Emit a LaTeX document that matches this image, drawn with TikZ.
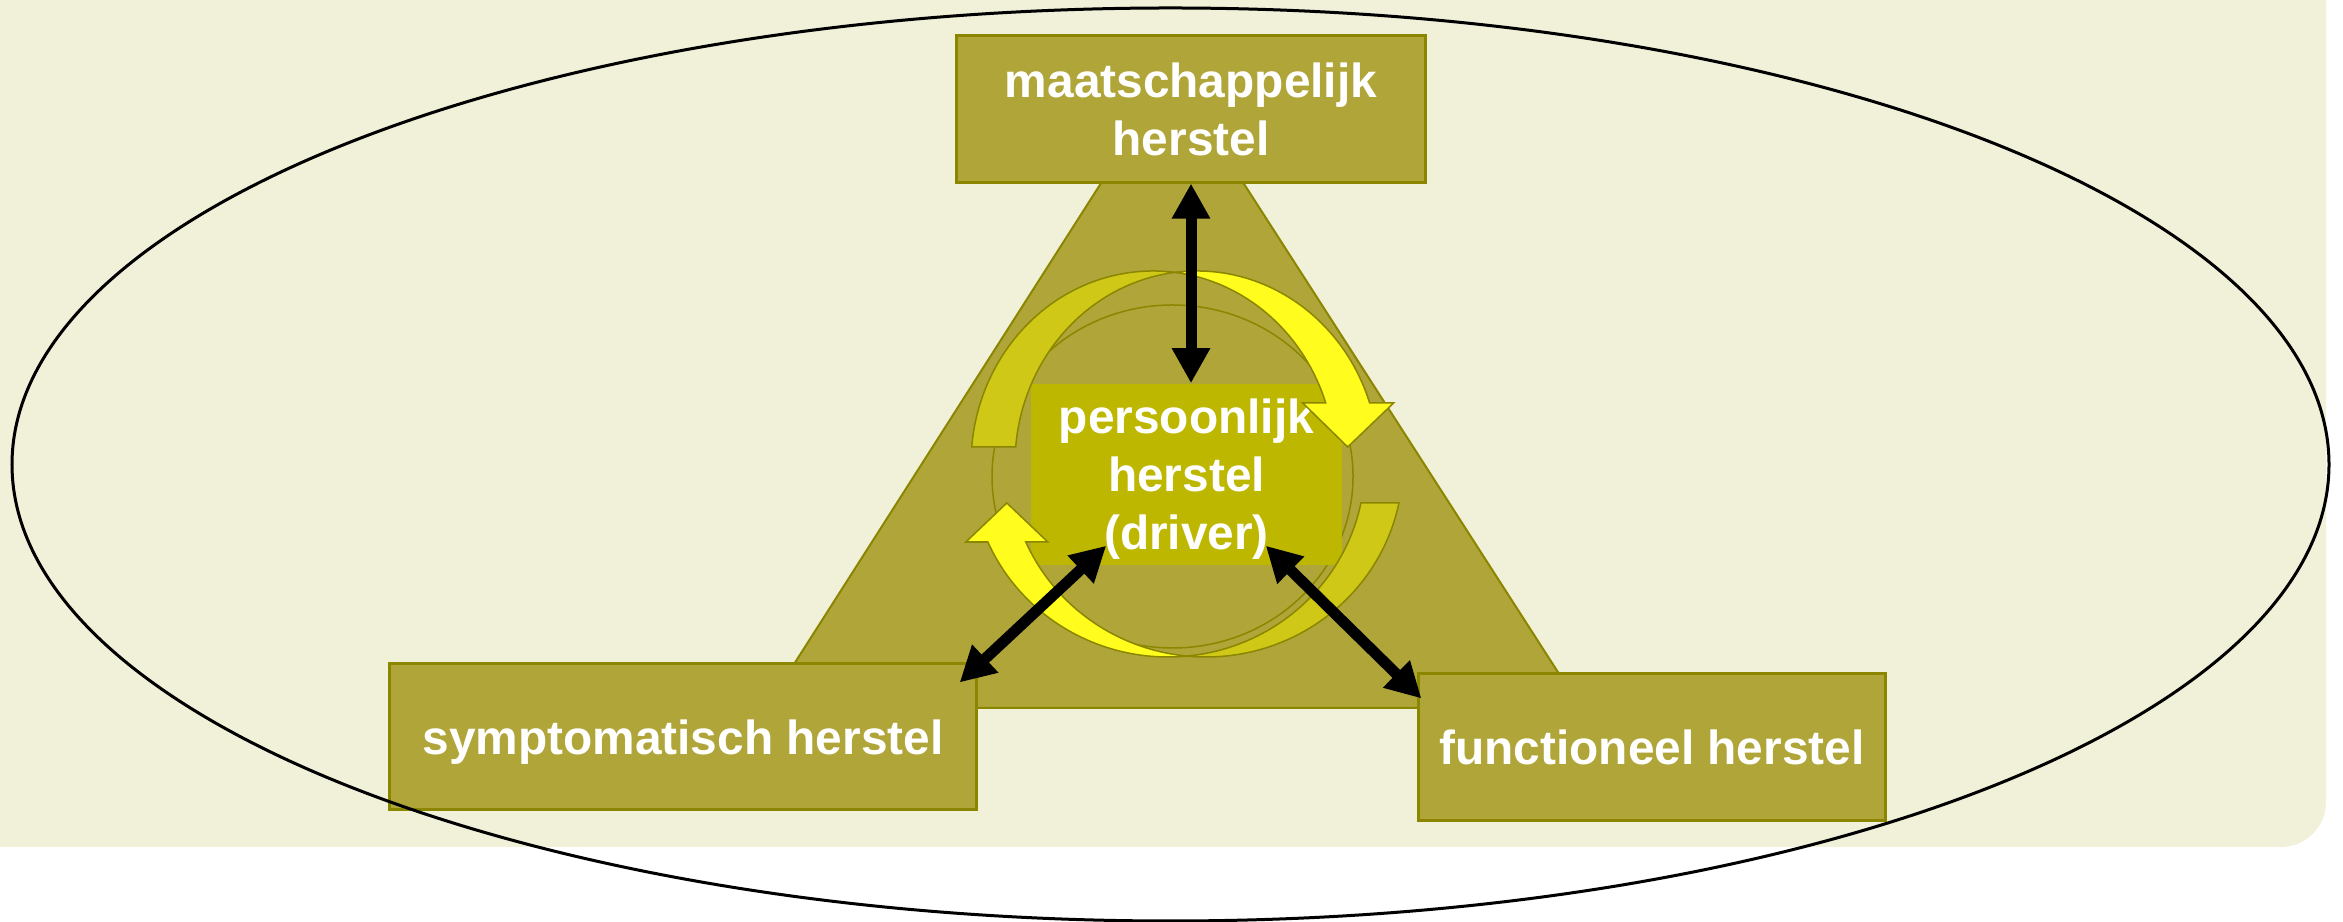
\documentclass[tikz,border=0pt]{standalone}
\usepackage{fontspec}
\setmainfont{Liberation Sans}
\usetikzlibrary{arrows.meta}
\definecolor{bgbeige}{HTML}{F1F0D8}
\definecolor{olivefill}{HTML}{B0A538}
\definecolor{oliveline}{HTML}{8B8600}
\definecolor{drivefill}{HTML}{BEB700}
\definecolor{darkyel}{HTML}{CFC817}
\definecolor{brightyel}{HTML}{FFFC1E}
\begin{document}
\begin{tikzpicture}[x=0.01cm,y=0.01cm,
    herstel/.style={fill=olivefill,text=white,font=\fontsize{13.6}{16.5}\selectfont\bfseries,align=center,inner sep=0pt},
    herstelbox/.style={herstel,draw=oliveline,line width=0.03cm},
    oneline/.style={text height=12.9pt,text depth=2.7pt},
    band/.style={draw=oliveline,line width=0.015cm},
    dblarrow/.style={{Triangle[length=0.35cm,width=0.36cm]}-{Triangle[length=0.35cm,width=0.36cm]},line width=0.11cm}]
      \useasboundingbox (0,0) rectangle (2343,922);
      \fill[bgbeige] (0,75) -- (2281,75) arc[start angle=270,end angle=360,radius=45] -- (2326,922) -- (0,922) -- cycle;
      \filldraw[fill=olivefill,draw=oliveline,line width=0.02cm] (1172,850) -- (766,214) -- (1581,214) -- cycle;

      \node[herstelbox,minimum width=4.68cm,minimum height=1.46cm] (maatsch) at (1191,813) {maatschappelijk\\herstel};
      \node[herstelbox,oneline,minimum width=5.86cm,minimum height=1.45cm] (sympt) at (683,185.5) {symptomatisch herstel};
      \node[herstelbox,oneline,minimum width=4.67cm,minimum height=1.46cm] (funct) at (1652,175) {functioneel herstel};

      \draw[oliveline,line width=0.015cm] (1172.5,445.5) ellipse[x radius=180.5,y radius=171.5];
      \node[herstel,fill=drivefill,text depth=0pt,minimum width=3.11cm,minimum height=1.81cm] (persoon) at (1186.5,447.5) {persoonlijk\\herstel\\(driver)};

      \begin{scope}[shift={(1175,458)}]
        \filldraw[band,fill=darkyel] (-203.3,17) arc[start angle=174.95,end angle=83.06,x radius=182,y radius=193]
          arc[start angle=96.94,end angle=174.95,x radius=182,y radius=193] -- cycle;
        \filldraw[band,fill=brightyel] (0,191.6) arc[start angle=96.94,end angle=18.43,x radius=182,y radius=193]
          -- ++(24,0) -- (172.7,17) -- (127.7,61) -- (150.7,61)
          arc[start angle=18.43,end angle=83.06,x radius=182,y radius=193] -- cycle;
      \end{scope}
      \begin{scope}[shift={(1187,458)}]
        \filldraw[band,fill=darkyel] (211.9,-39) arc[start angle=-11.66,end angle=-95.53,x radius=197,y radius=193]
          arc[start angle=-84.47,end angle=-11.66,x radius=197,y radius=193] -- cycle;
        \filldraw[band,fill=brightyel] (0,-192.1) arc[start angle=-84.47,end angle=-156.16,x radius=197,y radius=193]
          -- ++(-22,0) -- (-180.2,-39) -- (-139.2,-78) -- (-161.2,-78)
          arc[start angle=-156.16,end angle=-95.53,x radius=197,y radius=193] -- cycle;
      \end{scope}

      \draw[dblarrow] (maatsch.south) -- (maatsch.south |- persoon.north);
      \draw[dblarrow] ([shift={(76,20)}]persoon.south west) -- ([shift={(-18,-20)}]sympt.north east);
      \draw[dblarrow] ([shift={(-77,20)}]persoon.south east) -- ([shift={(4.5,-26)}]funct.north west);

      \draw[line width=0.03cm] (1170.5,457.5) ellipse[x radius=1158.5,y radius=456.5];
\end{tikzpicture}
\end{document}
